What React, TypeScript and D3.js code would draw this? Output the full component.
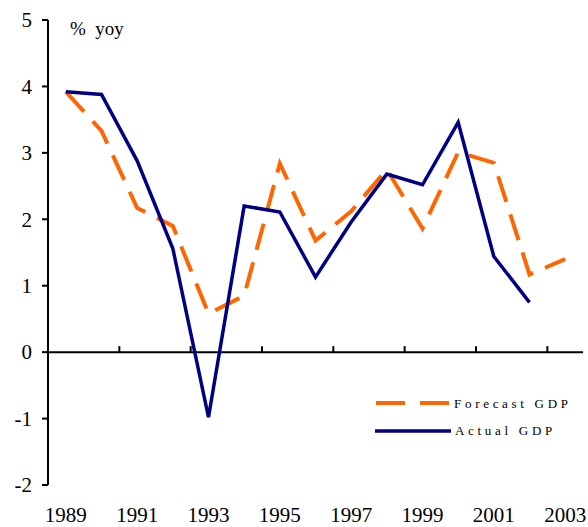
import React from "react";
import * as d3 from "d3";

const years = [1989,1990,1991,1992,1993,1994,1995,1996,1997,1998,1999,2000,2001,2002,2003];
const forecastGDP = [3.92,3.33,2.17,1.9,0.58,0.85,2.84,1.68,2.12,2.75,1.86,3.01,2.85,1.17,1.4];
const actualGDP: (number|null)[] = [3.92,3.88,2.88,1.56,-0.98,2.2,2.11,1.13,1.96,2.68,2.52,3.46,1.44,0.75,null];
const yTicks = [-2,-1,0,1,2,3,4,5];
const xLabelYears = [1989,1991,1993,1995,1997,1999,2001,2003];

const W = 588, H = 527;
const left = 48, right = 583, top = 20, bottom = 485;
const FONT = "'Liberation Serif', 'Times New Roman', serif";

export default function App() {
  const x = d3.scaleBand<number>().domain(years).range([left, right]).paddingInner(0).paddingOuter(0);
  const cx = (yr: number) => (x(yr) as number) + x.bandwidth() / 2;
  const y = d3.scaleLinear().domain([-2, 5]).range([bottom, top]);
  const y0 = y(0);

  const lineF = d3.line<number>().x((_, i) => cx(years[i])).y(d => y(d));
  const lineA = d3.line<number | null>()
    .defined(d => d !== null)
    .x((_, i) => cx(years[i]))
    .y(d => y(d as number));

  const xTickYears = years.filter((_, i) => i % 2 === 0 && i > 0);

  return (
    <svg width={W} height={H} style={{ position: "absolute", left: 0, top: 0, background: "#fff" }}>
      {/* y axis */}
      <line x1={left} x2={left} y1={top} y2={bottom} stroke="#000" strokeWidth={2} />
      {yTicks.map(t => (
        <g key={t}>
          <line x1={left - 6} x2={left} y1={y(t)} y2={y(t)} stroke="#000" strokeWidth={2} />
          <text x={32} y={y(t)} dy="0.35em" textAnchor="end" fontFamily={FONT} fontSize={21} fill="#000">{t}</text>
        </g>
      ))}
      {/* x axis at zero */}
      <line x1={left} x2={right} y1={y0} y2={y0} stroke="#000" strokeWidth={2} />
      {xTickYears.map(yr => (
        <line key={yr} x1={x(yr) as number} x2={x(yr) as number} y1={y0} y2={y0 - 6} stroke="#000" strokeWidth={2} />
      ))}
      {xLabelYears.map(yr => (
        <text key={yr} x={cx(yr)} y={522} textAnchor="middle" fontFamily={FONT} fontSize={21} fill="#000">{yr}</text>
      ))}
      <text x={70} y={35} fontFamily={FONT} fontSize={19} fill="#000" xmlSpace="preserve">%  yoy</text>

      {/* series */}
      <path d={lineF(forecastGDP) || ""} fill="none" stroke="#FF6600" strokeWidth={4} strokeDasharray="27,13" />
      <path d={lineA(actualGDP) || ""} fill="none" stroke="#000080" strokeWidth={3.5} strokeLinejoin="miter" />

      {/* legend */}
      <line x1={376} x2={449} y1={403} y2={403} stroke="#FF6600" strokeWidth={4} strokeDasharray="29,15" />
      <text x={454} y={403} dy="0.35em" fontFamily={FONT} fontSize={13} letterSpacing={3.7} fill="#000">Forecast GDP</text>
      <line x1={375} x2={451} y1={431} y2={431} stroke="#000080" strokeWidth={3.5} />
      <text x={455} y={430} dy="0.35em" fontFamily={FONT} fontSize={13} letterSpacing={3.7} fill="#000">Actual GDP</text>
    </svg>
  );
}
